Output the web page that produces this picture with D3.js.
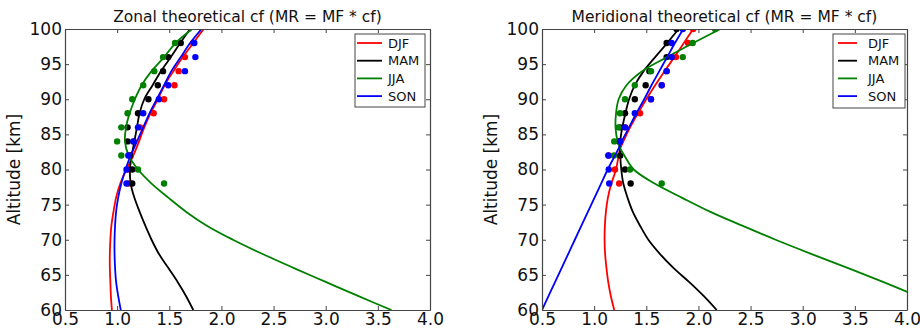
<!DOCTYPE html>
<html>
<head>
<meta charset="utf-8">
<script src="https://cdn.jsdelivr.net/npm/d3@7"></script>
<style>
  body { margin: 0; background: #fff; }
  svg { font-family: "DejaVu Sans", sans-serif; }
</style>
</head>
<body>
<div id="chart"></div>
<script>
// seasons and their line colours
var seasons = ["DJF", "MAM", "JJA", "SON"];
var colors = ["#ff0000", "#000000", "#008000", "#0000ff"];

// axis ticks
var xTicks = [0.5, 1.0, 1.5, 2.0, 2.5, 3.0, 3.5, 4.0];
var yTicks = [60, 65, 70, 75, 80, 85, 90, 95, 100];

// zonal theoretical curves (altitude km -> cf)
var zonalAlt = [60, 62, 64, 66, 68, 70, 72, 74, 76, 78, 80, 82, 84, 86, 88, 90, 92, 94, 96, 98, 100];
var zonalDJF = [0.95, 0.94, 0.935, 0.93, 0.93, 0.935, 0.945, 0.965, 0.99, 1.03, 1.09, 1.155, 1.21, 1.26, 1.32, 1.39, 1.455, 1.54, 1.63, 1.73, 1.83];
var zonalMAM = [1.73, 1.66, 1.58, 1.49, 1.40, 1.33, 1.27, 1.215, 1.165, 1.13, 1.123, 1.14, 1.165, 1.19, 1.215, 1.26, 1.34, 1.42, 1.515, 1.605, 1.70];
var zonalJJA = [3.63, 3.31, 3.00, 2.69, 2.39, 2.11, 1.86, 1.66, 1.49, 1.33, 1.20, 1.11, 1.075, 1.085, 1.12, 1.17, 1.235, 1.33, 1.45, 1.56, 1.72];
var zonalSON = [1.035, 1.01, 0.99, 0.98, 0.975, 0.975, 0.98, 0.99, 1.01, 1.04, 1.08, 1.13, 1.19, 1.25, 1.31, 1.38, 1.45, 1.52, 1.61, 1.70, 1.81];

// zonal measured points
var zonalDotAlt = [78, 80, 82, 84, 86, 88, 90, 92, 94, 96, 98];
var zonalDotDJF = [1.11, 1.11, 1.13, 1.16, 1.22, 1.35, 1.45, 1.55, 1.59, 1.65, 1.73];
var zonalDotMAM = [1.145, 1.145, 1.12, 1.10, 1.10, 1.20, 1.30, 1.39, 1.44, 1.49, 1.61];
var zonalDotJJA = [1.45, 1.20, 1.04, 1.00, 1.04, 1.10, 1.145, 1.25, 1.356, 1.44, 1.555];
var zonalDotSON = [1.09, 1.09, 1.107, 1.155, 1.20, 1.25, 1.40, 1.49, 1.65, 1.75, 1.74];

// meridional theoretical curves
var meridAlt = [60, 62, 64, 66, 68, 70, 72, 74, 76, 78, 80, 82, 83, 84, 86, 88, 90, 92, 94, 96, 98, 100];
var meridDJF = [1.193, 1.16, 1.135, 1.118, 1.105, 1.10, 1.103, 1.113, 1.132, 1.165, 1.21, 1.235, 1.25, 1.28, 1.345, 1.42, 1.50, 1.585, 1.675, 1.77, 1.86, 1.95];
var meridMAM = [2.175, 2.05, 1.91, 1.76, 1.63, 1.52, 1.44, 1.37, 1.32, 1.28, 1.26, 1.25, 1.248, 1.25, 1.27, 1.30, 1.335, 1.39, 1.475, 1.585, 1.70, 1.81];
var meridJJA = [null, 4.10, 3.77, 3.43, 3.08, 2.74, 2.42, 2.11, 1.84, 1.58, 1.38, 1.29, 1.25, 1.225, 1.205, 1.21, 1.235, 1.31, 1.46, 1.70, 1.95, 2.21];
var meridSON = [0.50, 0.563, 0.626, 0.689, 0.752, 0.815, 0.878, 0.941, 1.004, 1.067, 1.13, 1.20, 1.235, 1.265, 1.335, 1.405, 1.48, 1.55, 1.625, 1.70, 1.775, 1.855];

// meridional measured points
var meridDotAlt = [78, 80, 82, 84, 86, 88, 90, 92, 94, 96, 98, 100];
var meridDotDJF = [1.24, 1.20, 1.14, 1.25, 1.30, 1.44, 1.545, 1.648, 1.695, 1.785, 1.90, 1.95];
var meridDotMAM = [1.35, 1.296, 1.25, 1.24, 1.248, 1.296, 1.39, 1.494, 1.53, 1.695, 1.695, 1.79];
var meridDotJJA = [1.648, 1.344, 1.19, 1.193, 1.232, 1.248, 1.296, 1.39, 1.545, 1.85, 1.945, 2.16];
var meridDotSON = [1.145, 1.14, 1.136, 1.248, 1.296, 1.39, 1.545, 1.648, 1.695, 1.743, 1.743, 1.85];

var panels = [
  { title: "Zonal theoretical cf (MR = MF * cf)", left: 65, right: 430,
    alt: zonalAlt, curves: [zonalDJF, zonalMAM, zonalJJA, zonalSON],
    dotAlt: zonalDotAlt, dots: [zonalDotDJF, zonalDotMAM, zonalDotJJA, zonalDotSON],
    legend: { x: 355, y: 34, w: 70, h: 73, l1: 357, l2: 382, tx: 388 } },
  { title: "Meridional theoretical cf (MR = MF * cf)", left: 542, right: 907,
    alt: meridAlt, curves: [meridDJF, meridMAM, meridJJA, meridSON],
    dotAlt: meridDotAlt, dots: [meridDotDJF, meridDotMAM, meridDotJJA, meridDotSON],
    legend: { x: 833, y: 34, w: 72, h: 74, l1: 838, l2: 857, tx: 868 } }
];

var width = 920, height = 330;
var plotTop = 29, plotBottom = 310;

var svg = d3.select("#chart").append("svg")
  .attr("width", width)
  .attr("height", height);

var y = d3.scaleLinear().domain([60, 100]).range([plotBottom, plotTop]);

panels.forEach(function(p, pi) {
  var x = d3.scaleLinear().domain([0.5, 4.0]).range([p.left, p.right]);

  // clip so the curves stop at the frame
  svg.append("clipPath").attr("id", "clip" + pi)
    .append("rect")
    .attr("x", p.left).attr("y", plotTop)
    .attr("width", p.right - p.left).attr("height", plotBottom - plotTop);

  var plot = svg.append("g").attr("clip-path", "url(#clip" + pi + ")");

  seasons.forEach(function(s, si) {
    var pts = p.alt.map(function(a, i) { return [p.curves[si][i], a]; });
    var line = d3.line()
      .defined(function(d) { return d[0] != null; })
      .x(function(d) { return x(d[0]); })
      .y(function(d) { return y(d[1]); })
      .curve(d3.curveCatmullRom.alpha(0.5));
    plot.append("path")
      .datum(pts)
      .attr("d", line)
      .attr("fill", "none")
      .attr("stroke", colors[si])
      .attr("stroke-width", 1.8);

    plot.selectAll(null)
      .data(p.dotAlt.map(function(a, i) { return [p.dots[si][i], a]; }))
      .enter().append("circle")
      .attr("cx", function(d) { return x(d[0]); })
      .attr("cy", function(d) { return y(d[1]); })
      .attr("r", 3.2)
      .attr("fill", colors[si]);
  });

  // frame with inward ticks on all four sides
  var axes = [
    { a: d3.axisBottom(x).tickValues(xTicks).tickFormat(d3.format(".1f")), t: "translate(0," + plotBottom + ")" },
    { a: d3.axisTop(x).tickValues(xTicks).tickFormat(""), t: "translate(0," + plotTop + ")" },
    { a: d3.axisLeft(y).tickValues(yTicks).tickFormat(d3.format("d")), t: "translate(" + p.left + ",0)" },
    { a: d3.axisRight(y).tickValues(yTicks).tickFormat(""), t: "translate(" + p.right + ",0)" }
  ];
  axes.forEach(function(ax) {
    var g = svg.append("g")
      .attr("transform", ax.t)
      .call(ax.a.tickSizeInner(-4).tickSizeOuter(0).tickPadding(3));
    g.select(".domain").attr("stroke", "#444").attr("stroke-width", 1.2);
    g.selectAll(".tick line").attr("stroke", "#444");
    g.selectAll(".tick text")
      .attr("fill", "#111")
      .style("font-size", "17px")
      .style("font-family", "DejaVu Sans");
  });

  // title
  svg.append("text")
    .text(p.title)
    .attr("x", (p.left + p.right) / 2)
    .attr("y", 22)
    .attr("text-anchor", "middle")
    .style("font-size", "15.5px")
    .attr("fill", "#111");

  // y axis label
  svg.append("text")
    .text("Altitude [km]")
    .attr("transform", "translate(" + (p.left - 45) + "," + ((plotTop + plotBottom) / 2) + ") rotate(-90)")
    .attr("text-anchor", "middle")
    .style("font-size", "17px")
    .attr("fill", "#111");

  // legend
  var lg = p.legend;
  svg.append("rect")
    .attr("x", lg.x).attr("y", lg.y)
    .attr("width", lg.w).attr("height", lg.h)
    .attr("fill", "#fff")
    .attr("stroke", "#444")
    .attr("stroke-width", 1);
  seasons.forEach(function(s, si) {
    var ly = lg.y + 9 + si * 17.7;
    svg.append("line")
      .attr("x1", lg.l1).attr("x2", lg.l2)
      .attr("y1", ly).attr("y2", ly)
      .attr("stroke", colors[si])
      .attr("stroke-width", 1.8);
    svg.append("text")
      .text(s)
      .attr("x", lg.tx)
      .attr("y", ly)
      .attr("dy", "0.35em")
      .style("font-size", "13px")
      .attr("fill", "#111");
  });
});
</script>
</body>
</html>
